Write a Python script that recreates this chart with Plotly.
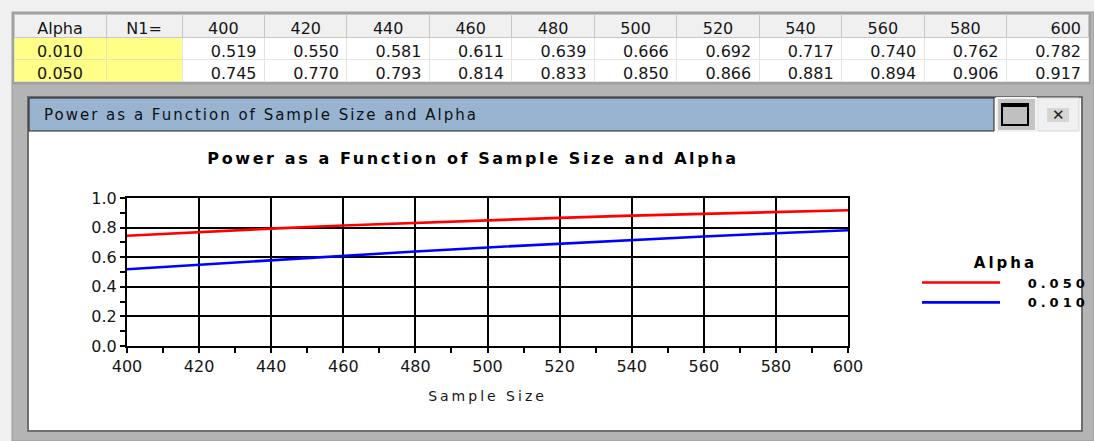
import plotly.graph_objects as go

W, H = 1094, 441

# ---- data ----
sample_sizes = [400, 420, 440, 460, 480, 500, 520, 540, 560, 580, 600]
alpha_levels = ["0.010", "0.050"]
power_alpha_010 = [0.519, 0.550, 0.581, 0.611, 0.639, 0.666, 0.692, 0.717, 0.740, 0.762, 0.782]
power_alpha_050 = [0.745, 0.770, 0.793, 0.814, 0.833, 0.850, 0.866, 0.881, 0.894, 0.906, 0.917]
table_header_labels = ["Alpha", "N1="] + [str(n) for n in sample_sizes]
y_tick_values = [0.0, 0.2, 0.4, 0.6, 0.8, 1.0]


def px_x(x):
    return x / W


def px_y(y):
    return 1 - y / H


def spaced(text, sp):
    return f'<span style="letter-spacing:{sp}px">{text}</span>'


FONT = "DejaVu Sans"
TXT = "#161616"
PAD = "\u00a0" * 5

fig = go.Figure()

# ---- data table ----
cell_vals = [list(alpha_levels), ["", ""]]
for a, b in zip(power_alpha_010, power_alpha_050):
    cell_vals.append([f"{a:.3f}", f"{b:.3f}"])

ncols = len(table_header_labels)
fig.add_trace(go.Table(
    domain=dict(x=[px_x(14), px_x(1089)], y=[px_y(84), px_y(14)]),
    columnwidth=[92, 76] + [82.4] * len(sample_sizes),
    header=dict(
        values=table_header_labels,
        height=23,
        align=["center"] * (ncols - 1) + ["right"],
        fill_color="#f0f0f0",
        line=dict(color="#c6c6c6", width=1),
        font=dict(family=FONT, size=16, color=TXT),
    ),
    cells=dict(
        values=cell_vals,
        height=22,
        align=["center", "center"] + ["right"] * len(sample_sizes),
        fill_color=["#ffff88", "#ffff88"] + ["#ffffff"] * len(sample_sizes),
        line=dict(color=["#e6e6b0", "#e6e6b0"] + ["#e4e4e4"] * len(sample_sizes), width=1),
        font=dict(family=FONT, size=16, color=TXT),
    ),
))

# ---- power curves ----
fig.add_trace(go.Scatter(
    x=sample_sizes, y=power_alpha_010, mode="lines",
    name=PAD + spaced(alpha_levels[0], 4),
    line=dict(color="#0000ff", width=2.6),
))
fig.add_trace(go.Scatter(
    x=sample_sizes, y=power_alpha_050, mode="lines",
    name=PAD + spaced(alpha_levels[1], 4),
    line=dict(color="#ff0000", width=2.6),
))

# ---- window chrome ----
def rect(x0, y0, x1, y1, fill, lc=None, lw=0, layer="below"):
    return dict(type="rect", xref="paper", yref="paper",
                x0=px_x(x0), x1=px_x(x1), y0=px_y(y1), y1=px_y(y0),
                fillcolor=fill, line=dict(color=lc or fill, width=lw), layer=layer)

shapes = [
    rect(12, 12, 1094, 441, "#b4b4b4", "#999999", 1),
    rect(12.5, 12.5, 1091, 84.5, "#a0a0a0"),
    rect(28, 97, 1082, 431, "#ffffff", "#6e6e6e", 2),
    rect(29, 98, 994, 131, "#99b4d1", "#1e1e1e", 1),
    rect(997, 98, 1036, 131, "#c4c4c4", "#f2f2f2", 2),
    rect(1002, 104, 1028, 125, "#c0c0c0", "#000000", 2),
    rect(1002, 104, 1028, 107, "#000000"),
    rect(1038, 98, 1079, 131, "#f0f0f0", "#d8d8d8", 1),
    rect(1047, 108, 1069, 122, "#d6d6d6"),
]

annotations = [
    dict(text=spaced("Power as a Function of Sample Size and Alpha", 2),
         x=px_x(42), y=px_y(115), xref="paper", yref="paper",
         xanchor="left", yanchor="middle", showarrow=False,
         font=dict(family=FONT, size=15, color="#101010")),
    dict(text="<b>\u2715</b>", x=px_x(1058), y=px_y(115), xref="paper", yref="paper",
         xanchor="center", yanchor="middle", showarrow=False,
         font=dict(family=FONT, size=15, color="#1a1a1a")),
]

fig.update_layout(
    width=W, height=H, autosize=False,
    margin=dict(l=0, r=0, t=0, b=0, pad=0, autoexpand=False),
    paper_bgcolor="#f0f0f0", plot_bgcolor="#ffffff",
    shapes=shapes, annotations=annotations,
    title=dict(text=spaced("Power as a Function of Sample Size and Alpha", 2.6),
               x=px_x(473), y=px_y(158), xanchor="center", yanchor="middle",
               xref="paper", yref="paper",
               font=dict(family=FONT, size=16, color="#000000", weight="bold")),
    showlegend=True,
    legend=dict(
        x=px_x(917), y=px_y(248), xanchor="left", yanchor="top",
        bgcolor="rgba(0,0,0,0)", borderwidth=0,
        traceorder="reversed", itemwidth=78, tracegroupgap=0,
        font=dict(family=FONT, size=13, color="#000000", weight="bold"),
        title=dict(text=spaced("Alpha", 3), side="top center",
                   font=dict(family=FONT, size=15, color="#000000", weight="bold")),
    ),
    xaxis=dict(
        domain=[px_x(127), px_x(848)], automargin=False,
        range=[400, 600], tickvals=sample_sizes,
        ticks="outside", ticklen=5, tickwidth=2, tickcolor="#000000",
        showgrid=True, gridcolor="#000000", gridwidth=2,
        showline=True, mirror=True, linecolor="#000000", linewidth=2,
        zeroline=False,
        minor=dict(dtick=10, ticks="outside", ticklen=5, tickwidth=1.5,
                   tickcolor="#000000", showgrid=False),
        tickfont=dict(family=FONT, size=16, color=TXT),
        title=dict(text=spaced("Sample Size", 3), standoff=16,
                   font=dict(family=FONT, size=14, color=TXT)),
    ),
    yaxis=dict(
        domain=[px_y(346), px_y(198)], automargin=False,
        range=[0, 1], tickvals=y_tick_values, tickformat=".1f",
        ticks="outside", ticklen=5, tickwidth=2, tickcolor="#000000",
        showgrid=True, gridcolor="#000000", gridwidth=1.5,
        showline=True, mirror=True, linecolor="#000000", linewidth=2,
        zeroline=False,
        minor=dict(dtick=0.1, ticks="outside", ticklen=5, tickwidth=1.5,
                   tickcolor="#000000", showgrid=False),
        tickfont=dict(family=FONT, size=16, color=TXT),
    ),
)

fig.write_html("out.html", config={"displayModeBar": False},
               post_script="document.body.style.margin='0';")
